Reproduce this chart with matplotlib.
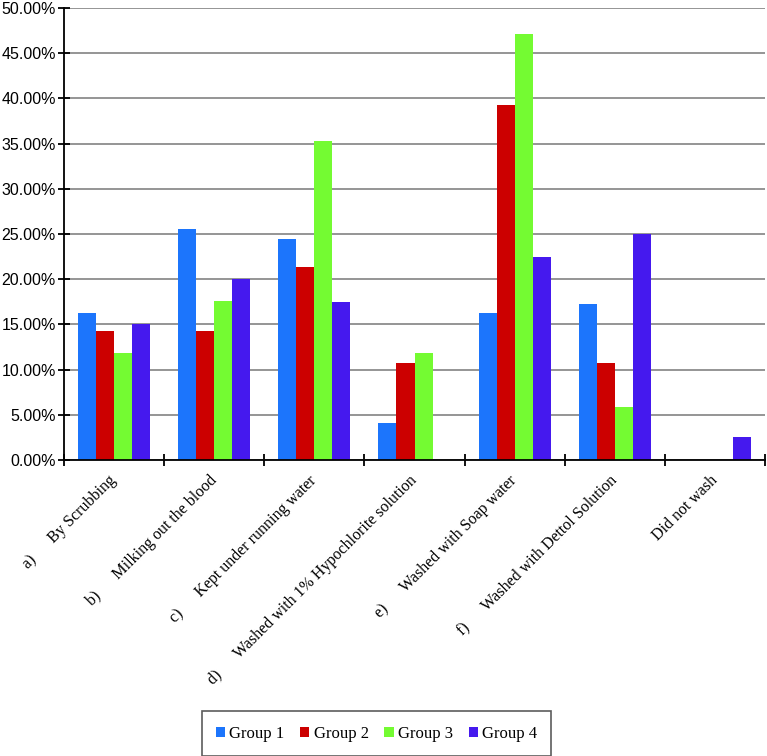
"""Grouped bar chart of wound washing methods by group"""

import numpy as np
import matplotlib.pyplot as plt
from matplotlib.ticker import FuncFormatter, MultipleLocator

categories = [
    "a)      By Scrubbing",
    "b)      Milking out the blood",
    "c)      Kept under running water",
    "d)      Washed with 1% Hypochlorite solution",
    "e)      Washed with Soap water",
    "f)      Washed with Dettol Solution",
    "Did not wash",
]
groups = ["Group 1", "Group 2", "Group 3", "Group 4"]

group1 = [16.3, 25.5, 24.5, 4.1, 16.3, 17.3, 0.0]
group2 = [14.3, 14.3, 21.4, 10.7, 39.3, 10.7, 0.0]
group3 = [11.8, 17.6, 35.3, 11.8, 47.1, 5.9, 0.0]
group4 = [15.0, 20.0, 17.5, 0.0, 22.5, 25.0, 2.5]

colors = ["#1c75fc", "#cc0000", "#74fb32", "#4519ee"]

fig = plt.figure(figsize=(7.67, 7.56), dpi=100)
ax = fig.add_axes([64 / 767, 1 - 460 / 756, 701 / 767, 452 / 756])

x = np.arange(len(categories))
width = 0.18
series = [group1, group2, group3, group4]
for i, (vals, name) in enumerate(zip(series, groups)):
    ax.bar(x + (i - 1.5) * width, vals, width, color=colors[i], label=name,
           zorder=3)

ax.set_xlim(-0.5, len(categories) - 0.5)
ax.set_ylim(0, 50)
ax.yaxis.set_major_locator(MultipleLocator(5))
ax.yaxis.set_major_formatter(FuncFormatter(lambda v, p: f"{v:.2f}%"))
ax.grid(axis="y", color="#8c8c8c", linewidth=1.3, zorder=0)

for s in ["top", "right"]:
    ax.spines[s].set_visible(False)
for s in ["left", "bottom"]:
    ax.spines[s].set_linewidth(1.3)
    ax.spines[s].set_zorder(4)

ax.set_xticks(x)
ax.set_xticklabels(categories, rotation=45, ha="right", va="center",
                   rotation_mode="anchor", family="Liberation Serif",
                   fontsize=11.5)
ax.tick_params(axis="x", length=0, pad=13)
ax.set_xticks(np.arange(len(categories) + 1) - 0.5, minor=True)
ax.tick_params(axis="x", which="minor", length=8, width=1.3, direction="inout")
ax.tick_params(axis="y", length=8, width=1.3, direction="inout",
               labelsize=11.5, pad=2)
for lab in ax.get_yticklabels():
    lab.set_family("Liberation Sans")

leg = fig.legend(loc="center", bbox_to_anchor=(376.5 / 767, 1 - 733.5 / 756),
                 ncol=4, frameon=True, fancybox=False, edgecolor="#333333",
                 prop={"family": "Liberation Serif", "size": 12},
                 handlelength=0.55, handleheight=0.55, handletextpad=0.25,
                 columnspacing=0.95, borderpad=0.85)
leg.get_frame().set_linewidth(1.2)

plt.savefig("out.png", dpi=100)
